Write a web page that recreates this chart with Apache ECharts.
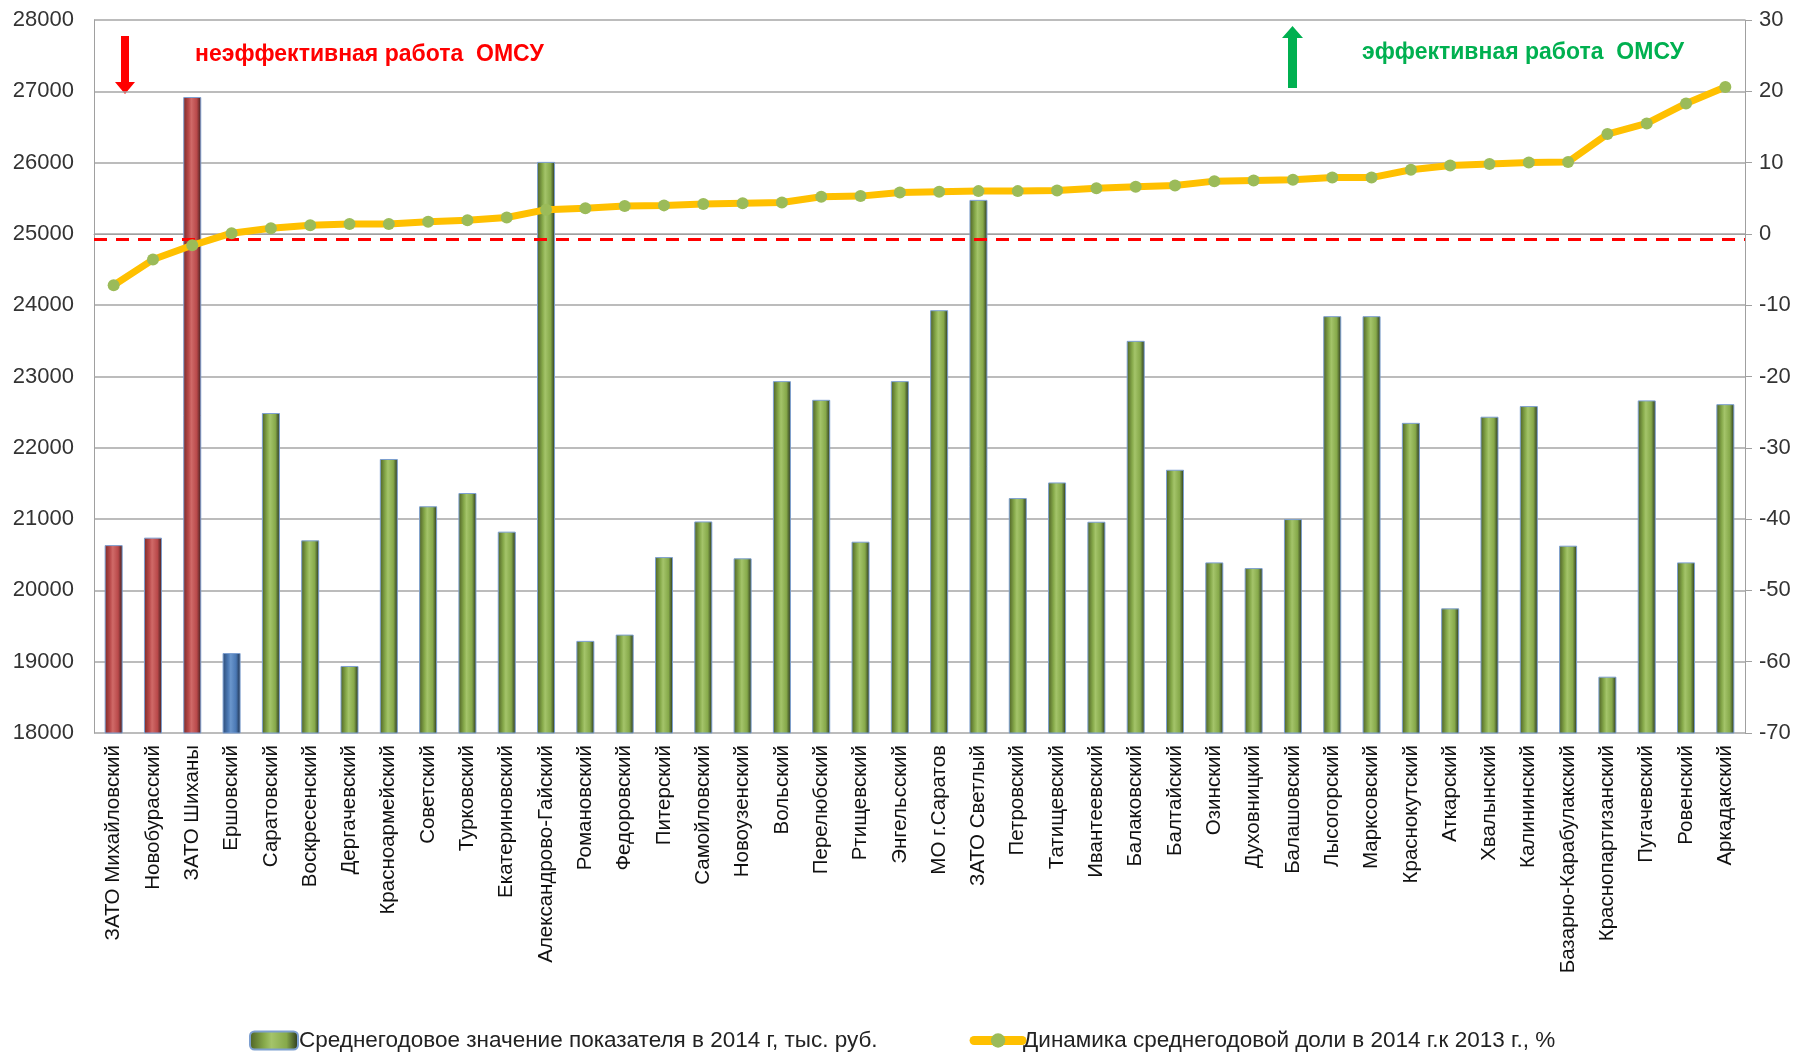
<!DOCTYPE html>
<html lang="ru">
<head>
    <meta charset="UTF-8">
    <title>Среднегодовое значение показателя</title>
    <script type="text/javascript" src="https://cdn.jsdelivr.net/npm/echarts@6/dist/echarts.min.js"></script>
    <style>
        html, body { margin: 0; padding: 0; background: #fff; }
        #chart { width: 1802px; height: 1052px; }
    </style>
</head>
<body>
<div id="chart"></div>

<script type="text/javascript">
    // районы, в порядке роста динамики
    var districts = ['ЗАТО Михайловский', 'Новобурасский', 'ЗАТО Шиханы', 'Ершовский', 'Саратовский',
        'Воскресенский', 'Дергачевский', 'Красноармейский', 'Советский', 'Турковский', 'Екатериновский',
        'Александрово-Гайский', 'Романовский', 'Федоровский', 'Питерский', 'Самойловский', 'Новоузенский',
        'Вольский', 'Перелюбский', 'Ртищевский', 'Энгельсский', 'МО г.Саратов', 'ЗАТО Светлый', 'Петровский',
        'Татищевский', 'Ивантеевский', 'Балаковский', 'Балтайский', 'Озинский', 'Духовницкий', 'Балашовский',
        'Лысогорский', 'Марксовский', 'Краснокутский', 'Аткарский', 'Хвалынский', 'Калининский',
        'Базарно-Карабулакский', 'Краснопартизанский', 'Пугачевский', 'Ровенский', 'Аркадакский'];

    // среднегодовое значение 2014, тыс. руб. (левая ось)
    var avgValue2014 = [20635, 20740, 26920, 19122, 22488, 20702, 18940, 21843, 21180, 21366, 20824,
        26010, 19292, 19380, 20467, 20967, 20450, 22935, 22673, 20683, 22935, 23930, 25477, 21295,
        21514, 20963, 23500, 21692, 20393, 20313, 21000, 23846, 23846, 22350, 19748, 22436, 22585,
        20627, 18790, 22665, 20393, 22612];

    // динамика 2014 к 2013, % (правая ось)
    var dynamicsPct = [-7.2, -3.6, -1.6, 0.1, 0.8, 1.2, 1.4, 1.4, 1.7, 1.9, 2.3,
        3.4, 3.6, 3.9, 4.0, 4.2, 4.3, 4.4, 5.2, 5.3, 5.8, 5.9, 6.0, 6.0,
        6.1, 6.4, 6.6, 6.8, 7.4, 7.5, 7.6, 7.9, 7.9, 9.0, 9.6, 9.8, 10.0,
        10.1, 14.0, 15.5, 18.3, 20.6];

    // группа столбца: neg - неэффективно, mid - нейтрально, pos - остальные
    var barGroup = ['neg', 'neg', 'neg', 'mid'];
    var thresholdPct = -0.7;

    var seriesNames = ['Среднегодовое значение показателя в 2014 г, тыс. руб.',
        'Динамика среднегодовой доли в 2014 г.к 2013 г., %'];

    function cylinder(dark, mid, light, darkest) {
        return new echarts.graphic.LinearGradient(0, 0, 1, 0, [
            {offset: 0, color: dark},
            {offset: 0.3, color: mid},
            {offset: 0.45, color: light},
            {offset: 0.75, color: mid},
            {offset: 1, color: darkest}
        ]);
    }
    var fills = {
        neg: cylinder('#7a2a28', '#b9494a', '#d06a68', '#3a1a1a'),
        mid: cylinder('#2c4a74', '#4a78b4', '#6a96cc', '#1c2a40'),
        pos: cylinder('#4c5f25', '#86a94a', '#a4c46a', '#25301a')
    };

    var barData = avgValue2014.map(function (v, i) {
        var g = barGroup[i] || 'pos';
        return {value: v, itemStyle: {color: fills[g]}};
    });

    var myChart = echarts.init(document.getElementById('chart'));
    myChart.setOption({
        animation: false,
        textStyle: {fontFamily: 'Liberation Sans, Arial, sans-serif'},
        grid: {left: 94, right: 57, top: 20, bottom: 319},
        legend: {
            left: 244,
            top: 1024,
            itemGap: 92,
            itemWidth: 48,
            itemHeight: 18,
            textStyle: {fontSize: 22.5, color: '#222', padding: [0, 0, 0, -4]},
            data: [
                {name: seriesNames[0]},
                {name: seriesNames[1], lineStyle: {width: 9, cap: 'round'}}
            ]
        },
        xAxis: {
            type: 'category',
            data: districts,
            axisTick: {show: false},
            axisLine: {lineStyle: {color: '#a0a0a0'}},
            axisLabel: {interval: 0, rotate: 90, fontSize: 20.5, color: '#111', margin: 12}
        },
        yAxis: [
            {
                type: 'value',
                min: 18000,
                max: 28000,
                interval: 1000,
                axisLine: {show: true, lineStyle: {color: '#a0a0a0'}},
                axisTick: {show: false},
                axisLabel: {fontSize: 22, color: '#333', margin: 20, formatter: function (v) { return String(v); }},
                splitLine: {lineStyle: {color: '#a6a6a6', width: 1.5}}
            },
            {
                type: 'value',
                min: -70,
                max: 30,
                interval: 10,
                position: 'right',
                axisLine: {show: true, lineStyle: {color: '#a0a0a0'}},
                axisTick: {show: true, length: 7, lineStyle: {color: '#a0a0a0'}},
                axisLabel: {fontSize: 22, color: '#333', margin: 14},
                splitLine: {show: false}
            }
        ],
        series: [
            {
                name: seriesNames[0],
                type: 'bar',
                barWidth: 18,
                data: barData,
                itemStyle: {color: fills.pos, borderColor: '#7d9fd0', borderWidth: 1}
            },
            {
                name: seriesNames[1],
                type: 'line',
                yAxisIndex: 1,
                data: dynamicsPct,
                symbol: 'circle',
                symbolSize: 12,
                z: 5,
                itemStyle: {color: '#9bbb59'},
                lineStyle: {color: '#ffc000', width: 7},
                markLine: {
                    silent: true,
                    symbol: ['none', 'none'],
                    label: {show: false},
                    lineStyle: {color: '#ff0000', width: 3, type: [13, 9]},
                    data: [{yAxis: thresholdPct}]
                }
            }
        ],
        graphic: [
            {
                type: 'polygon',
                shape: {points: [[121, 36], [129, 36], [129, 82], [135, 82], [125, 94], [115, 82], [121, 82]]},
                style: {fill: '#ff0000'}
            },
            {
                type: 'text',
                left: 195,
                top: 43,
                style: {text: 'неэффективная работа  ОМСУ', fill: '#ff0000', font: 'bold 23px Liberation Sans, Arial, sans-serif'}
            },
            {
                type: 'polygon',
                shape: {points: [[1288, 88], [1297, 88], [1297, 38], [1303, 38], [1292.5, 26], [1282, 38], [1288, 38]]},
                style: {fill: '#00b050'}
            },
            {
                type: 'text',
                left: 1362,
                top: 41,
                style: {text: 'эффективная работа  ОМСУ', fill: '#00b050', font: 'bold 23px Liberation Sans, Arial, sans-serif'}
            }
        ]
    });
</script>

</body>
</html>
